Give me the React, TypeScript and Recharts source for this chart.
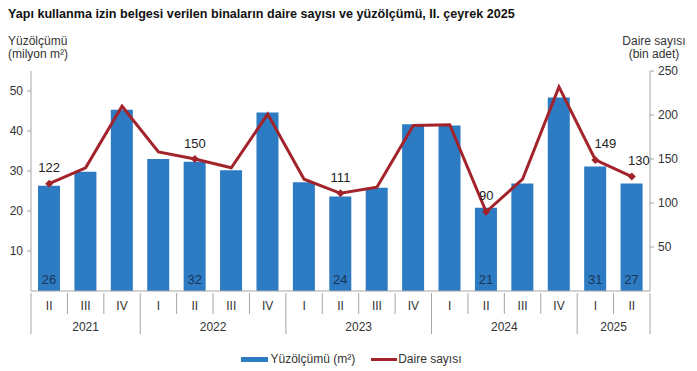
import {
  ComposedChart,
  Bar,
  Line,
  XAxis,
  YAxis,
  Legend,
  LabelList,
} from "recharts";

const quarters = ["II", "III", "IV", "I", "II", "III", "IV", "I", "II", "III", "IV", "I", "II", "III", "IV", "I", "II"];
const years = [
  "2021", "2021", "2021",
  "2022", "2022", "2022", "2022",
  "2023", "2023", "2023", "2023",
  "2024", "2024", "2024", "2024",
  "2025", "2025",
];
// Yüzölçümü, milyon m²
const floorArea = [26.3, 29.8, 45.3, 33.0, 32.3, 30.2, 44.6, 27.2, 23.6, 25.8, 41.7, 41.4, 20.8, 26.9, 48.4, 31.1, 26.9];
// Daire sayısı, bin adet
const dwellings = [122, 140, 210, 158, 150, 140, 201, 127, 111, 118, 188, 189, 90, 127, 232, 149, 130];

const leftTicks = [10, 20, 30, 40, 50];
const rightTicks = [50, 100, 150, 200, 250];

const data = quarters.map((q, i) => ({
  q,
  year: years[i],
  area: floorArea[i],
  units: dwellings[i],
}));

const BLUE = "#2C7BC3";
const RED = "#A3232B";
const GRID = "#A6A6A6";
const TEXT = "#333";
const FONT = "'Liberation Sans', Arial, sans-serif";

const W = 697;
const H = 371;
const PLOT_LEFT = 31;
const PLOT_RIGHT = 650;

// second quarters are labelled, plus every quarter of the latest year
const isLabelled = (i: number) => quarters[i] === "II" || years[i] === years[years.length - 1];

const QuarterTick = (props: any) => {
  const { x, y, payload } = props;
  const i = payload.index;
  const half = payload.offset || (PLOT_RIGHT - PLOT_LEFT) / quarters.length / 2;
  const left = x - half;
  const startYear = i === 0 || years[i] !== years[i - 1];
  const groupLen = years.filter((v) => v === years[i]).length;
  const last = i === quarters.length - 1;
  return (
    <g>
      <line x1={left} x2={left} y1={y} y2={y + (startYear ? 41 : 21)} stroke={GRID} />
      {last && <line x1={x + half} x2={x + half} y1={y} y2={y + 41} stroke={GRID} />}
      <text x={x} y={y + 13} textAnchor="middle" dominantBaseline="central" fontSize={12} fill={TEXT} fontFamily={FONT}>
        {payload.value}
      </text>
      {startYear && (
        <text
          x={left + half * groupLen}
          y={y + 34}
          textAnchor="middle"
          dominantBaseline="central"
          fontSize={12}
          fill={TEXT}
          fontFamily={FONT}
        >
          {years[i]}
        </text>
      )}
    </g>
  );
};

const BarValue = (props: any) => {
  const { x, y, width, height, value, index } = props;
  if (!isLabelled(index)) return null;
  return (
    <text
      x={x + width / 2}
      y={y + height - 12}
      textAnchor="middle"
      dominantBaseline="central"
      fontSize={13}
      fill="#1B3558"
      fontFamily={FONT}
    >
      {Math.round(value)}
    </text>
  );
};

const LineValue = (props: any) => {
  const { x, y, value, index } = props;
  if (!isLabelled(index)) return null;
  const dx = index === quarters.length - 2 ? 10 : index === quarters.length - 1 ? 7 : 0;
  return (
    <text
      x={x + dx}
      y={y - 16}
      textAnchor="middle"
      dominantBaseline="central"
      fontSize={13}
      fill="#222"
      fontFamily={FONT}
    >
      {value}
    </text>
  );
};

const Marker = (props: any) => {
  const { cx, cy, index } = props;
  if (!isLabelled(index)) return <g key={`m${index}`} />;
  const r = 4;
  return (
    <path
      key={`m${index}`}
      d={`M${cx},${cy - r} L${cx + r},${cy} L${cx},${cy + r} L${cx - r},${cy} Z`}
      fill={RED}
    />
  );
};

const LegendBox = () => (
  <div
    style={{
      height: 20,
      display: "flex",
      alignItems: "center",
      justifyContent: "center",
      fontFamily: FONT,
      fontSize: 12,
      color: TEXT,
    }}
  >
    <span style={{ display: "inline-block", width: 27, height: 5, background: BLUE, marginLeft: 6 }} />
    <span style={{ marginLeft: 2 }}>Yüzölçümü (m²)</span>
    <span style={{ display: "inline-block", width: 26, height: 3, background: RED, marginLeft: 16 }} />
    <span style={{ marginLeft: 1 }}>Daire sayısı</span>
  </div>
);

const App = () => {
  return (
    <div style={{ position: "absolute", left: 0, top: 0, width: W, height: H, background: "#fff", fontFamily: FONT }}>
      <div style={{ position: "absolute", left: 8, top: 7, fontSize: 12.6, fontWeight: "bold", color: "#111", whiteSpace: "nowrap" }}>
        Yapı kullanma izin belgesi verilen binaların daire sayısı ve yüzölçümü, II. çeyrek 2025
      </div>
      <div style={{ position: "absolute", left: 8, top: 35, fontSize: 12, lineHeight: "13px", color: TEXT }}>
        Yüzölçümü
        <br />
        (milyon m²)
      </div>
      <div
        style={{
          position: "absolute",
          left: 620,
          width: 68,
          top: 35,
          fontSize: 12,
          lineHeight: "13px",
          color: TEXT,
          textAlign: "center",
        }}
      >
        Daire sayısı
        <br />
        (bin adet)
      </div>
      <ComposedChart width={W} height={H} data={data} margin={{ top: 71, right: 0, left: 0, bottom: 2 }}>
        <XAxis
          dataKey="q"
          interval={0}
          height={58}
          tickSize={0}
          tickLine={false}
          axisLine={{ stroke: GRID }}
          tick={<QuarterTick />}
        />
        <YAxis
          yAxisId="left"
          width={31}
          domain={[0, 55]}
          ticks={leftTicks}
          interval={0}
          axisLine={{ stroke: GRID }}
          tickLine={{ stroke: GRID }}
          tickSize={4}
          tickMargin={4}
          tick={{ fontSize: 12, fill: TEXT, fontFamily: FONT }}
        />
        <YAxis
          yAxisId="right"
          orientation="right"
          width={47}
          domain={[0, 250]}
          ticks={rightTicks}
          interval={0}
          axisLine={{ stroke: GRID }}
          tickLine={{ stroke: GRID }}
          tickSize={4}
          tickMargin={4}
          tick={{ fontSize: 12, fill: TEXT, fontFamily: FONT }}
        />
        <Legend
          verticalAlign="bottom"
          content={<LegendBox />}
          wrapperStyle={{ top: 349, left: 0, width: W }}
        />
        <Bar yAxisId="left" dataKey="area" name="Yüzölçümü (m²)" fill={BLUE} barSize={22} isAnimationActive={false}>
          <LabelList dataKey="area" content={<BarValue />} />
        </Bar>
        <Line
          yAxisId="right"
          dataKey="units"
          name="Daire sayısı"
          type="linear"
          stroke={RED}
          strokeWidth={3}
          dot={<Marker />}
          activeDot={false}
          isAnimationActive={false}
        >
          <LabelList dataKey="units" content={<LineValue />} />
        </Line>
      </ComposedChart>
    </div>
  );
};

export default App;
